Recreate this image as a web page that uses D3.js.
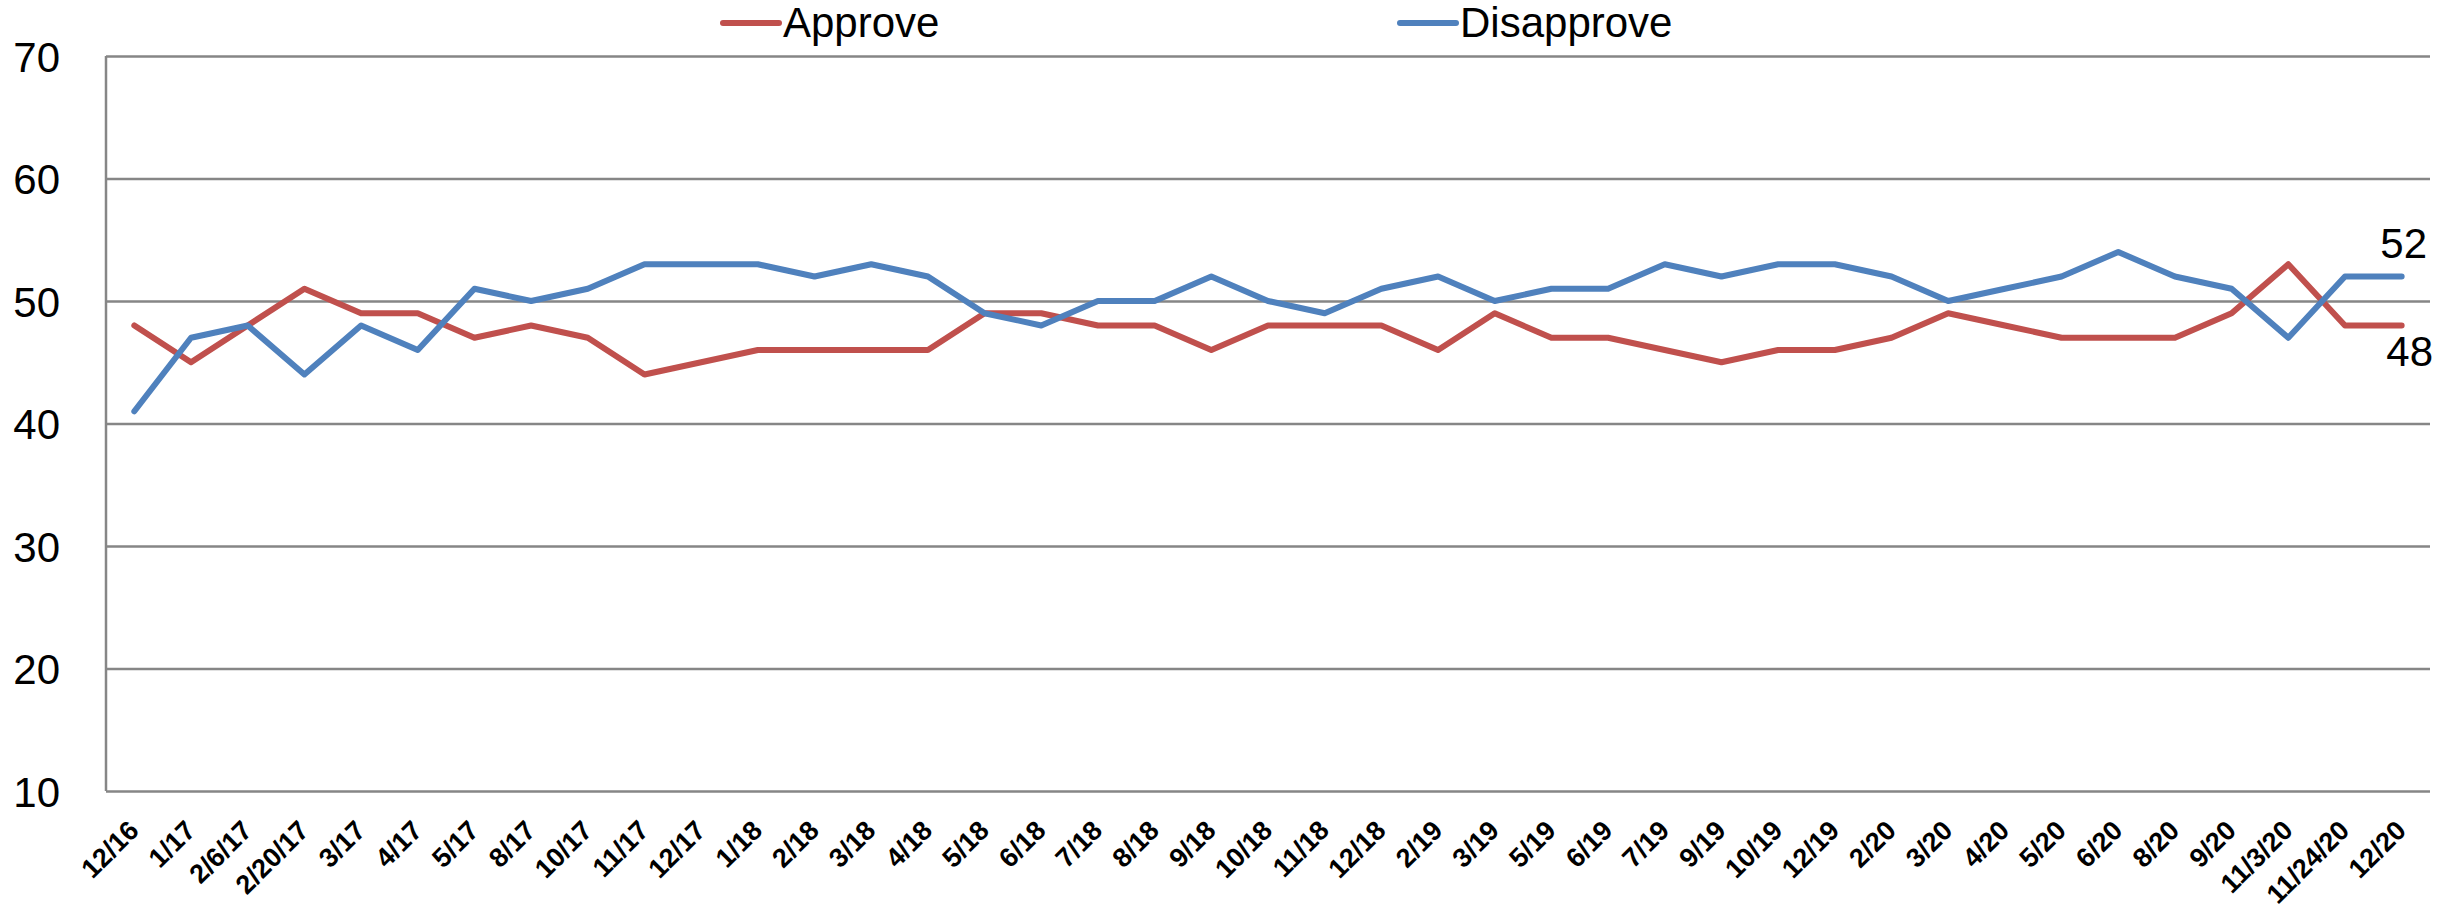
<!DOCTYPE html>
<html>
<head>
<meta charset="utf-8">
<script src="https://cdn.jsdelivr.net/npm/d3@7/dist/d3.min.js"></script>
<style>
    body { margin: 0; background: #fff; }
    svg { display: block; font-family: "Liberation Sans", Arial, sans-serif; }
    .grid line { stroke: #868686; stroke-width: 2.5; }
    .grid path { display: none; }
    .y.axis path, .y.axis line { display: none; }
    .y.axis text { font-size: 42px; fill: #000; }
    .x.axis path, .x.axis line { display: none; }
    .x.axis text { font-size: 27px; font-weight: bold; fill: #000; }
    .line { fill: none; stroke-width: 6; stroke-linejoin: round; stroke-linecap: round; }
</style>
</head>
<body>
<svg id="lineChart" width="2456" height="914"></svg>
<script>
const categories = ["12/16","1/17","2/6/17","2/20/17","3/17","4/17","5/17","8/17","10/17","11/17",
    "12/17","1/18","2/18","3/18","4/18","5/18","6/18","7/18","8/18","9/18",
    "10/18","11/18","12/18","2/19","3/19","5/19","6/19","7/19","9/19","10/19",
    "12/19","2/20","3/20","4/20","5/20","6/20","8/20","9/20","11/3/20","11/24/20","12/20"];

const approve = [48,45,48,51,49,49,47,48,47,44,
    45,46,46,46,46,49,49,48,48,46,
    48,48,48,46,49,47,47,46,45,46,
    46,47,49,48,47,47,47,49,53,48,48];

const disapprove = [41,47,48,44,48,46,51,50,51,53,
    53,53,52,53,52,49,48,50,50,52,
    50,49,51,52,50,51,51,53,52,53,
    53,52,50,51,52,54,52,51,47,52,52];

const yTicks = [10,20,30,40,50,60,70];

const seriesNames = ["Approve","Disapprove"];
const seriesColors = ["#C0504D","#4F81BD"];

const drawLine = ()=>{
    let svg = d3.select("#lineChart");

    let margin = {
        top: 56,
        bottom: 123,
        right: 26,
        left: 106
    };

    let width = svg.attr("width") - margin.left - margin.right;
    let height = svg.attr("height") - margin.top - margin.bottom;

    svg.append("rect").attr("width", svg.attr("width")).attr("height", svg.attr("height")).attr("fill", "#fff");

    let g = svg.append("g").attr("transform", "translate(" + margin.left + "," + margin.top + ")");

    let xScale = d3.scaleBand().range([0, width]).domain(categories);
    let yScale = d3.scaleLinear().range([height, 0]).domain([10, 70]);
    let half = xScale.bandwidth() / 2;

    // horizontal grid lines (the 10 line doubles as the x axis)
    g.append("g")
    .attr("class", "grid")
    .call(d3.axisLeft(yScale).tickValues(yTicks).tickSize(-width).tickFormat(""));

    // left axis line
    g.append("line")
    .attr("x1", 0).attr("x2", 0)
    .attr("y1", yScale(70)).attr("y2", yScale(10))
    .attr("stroke", "#868686")
    .attr("stroke-width", 2.5);

    g.append("g")
    .attr("class", "y axis")
    .call(d3.axisLeft(yScale).tickValues(yTicks).tickSize(0).tickPadding(46))
    .selectAll("text")
    .attr("dy", "0.36em");

    let xAxis = g.append("g")
    .attr("class", "x axis")
    .attr("transform", "translate(0," + height + ")")
    .call(d3.axisBottom(xScale).tickSize(0).tickFormat(""));

    xAxis.selectAll(".tick")
    .append("text")
    .text((d)=>d)
    .attr("text-anchor", "end")
    .attr("transform", "translate(6,41) rotate(-45)");

    let line = d3.line()
    .x((d)=>xScale(d[0]) + half)
    .y((d)=>yScale(d[1]));

    let allSeries = [approve, disapprove];

    allSeries.forEach((values, s)=>{
        let lineData = [];
        values.forEach((v, i)=>{
            lineData.push([categories[i], v]);
        })
        g.append("path")
        .datum(lineData)
        .attr("class", "line")
        .attr("stroke", seriesColors[s])
        .attr("d", line);
    })

    // end value labels
    let last = categories.length - 1;
    g.append("text")
    .attr("x", xScale(categories[last]) + half + 2)
    .attr("y", yScale(disapprove[last]) - 19)
    .attr("text-anchor", "middle")
    .attr("font-size", "42px")
    .text(disapprove[last]);

    g.append("text")
    .attr("x", xScale(categories[last]) + half + 8)
    .attr("y", yScale(approve[last]) + 40)
    .attr("text-anchor", "middle")
    .attr("font-size", "42px")
    .text(approve[last]);

    // legend
    let legendX = [723, 1400];
    seriesNames.forEach((name, s)=>{
        let lg = svg.append("g").attr("transform", "translate(" + legendX[s] + ",23)");
        lg.append("line")
        .attr("x1", 0).attr("x2", 56)
        .attr("y1", 0).attr("y2", 0)
        .attr("stroke", seriesColors[s])
        .attr("stroke-width", 6)
        .attr("stroke-linecap", "round");
        lg.append("text")
        .attr("x", 60)
        .attr("y", 14)
        .attr("font-size", "42px")
        .text(name);
    })
}

window.onload = function(){
    drawLine();
}
</script>
</body>
</html>
